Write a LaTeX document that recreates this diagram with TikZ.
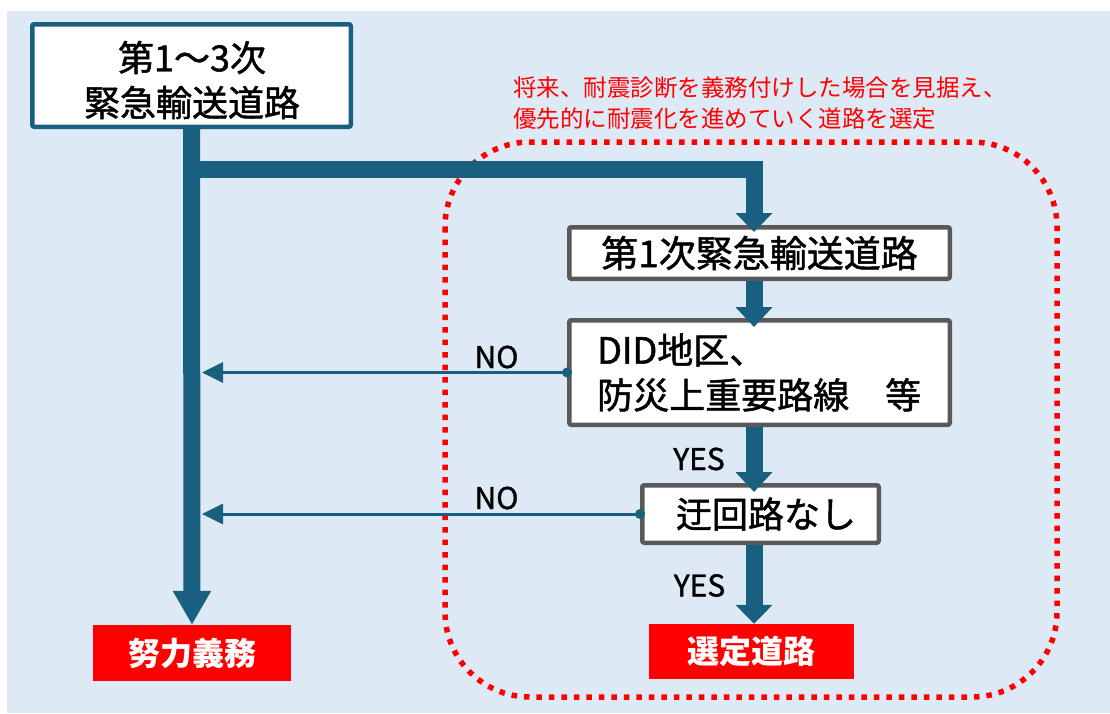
\documentclass[tikz,border=0pt]{standalone}
\usepackage{fontspec}
\setmainfont{Noto Sans CJK JP}
\newfontfamily\jpmed[FakeBold=1.3]{Noto Sans CJK JP}
\usetikzlibrary{arrows.meta}
\definecolor{bgblue}{HTML}{DDEAF6}
\definecolor{tealc}{HTML}{185F80}
\definecolor{grayc}{HTML}{595959}
\definecolor{redc}{HTML}{FF0000}
\begin{document}
\begin{tikzpicture}[x=1pt,y=-1pt,
  tealbox/.style={draw=tealc,line width=4.5pt,fill=white,rounded corners=2pt,inner sep=0pt},
  graybox/.style={draw=grayc,line width=4.5pt,fill=white,rounded corners=2pt,align=center,inner sep=0pt,
    font=\jpmed\fontsize{37pt}{45pt}\selectfont},
  boxtext/.style={inner sep=0pt,align=left,font=\jpmed\fontsize{36pt}{45pt}\selectfont},
  redbox/.style={fill=redc,text=white,inner sep=0pt,font=\bfseries\fontsize{32pt}{36pt}\selectfont},
  bigline/.style={draw=tealc,line width=17pt,line join=miter},
  thinline/.style={draw=tealc,line width=3pt,-{Triangle[length=21pt,width=20pt]}},
  lbl/.style={inner sep=0pt,font=\jpmed\fontsize{30pt}{32pt}\selectfont},
  notetext/.style={anchor=west,align=left,text=redc,inner sep=0pt,font=\fontsize{23.5pt}{31pt}\selectfont}
]
\useasboundingbox (0,0) rectangle (1110,713);
\fill[bgblue] (7,11) rectangle (1110,713);

% dotted frame
\draw[redc,line width=5.5pt,dash pattern=on 5.5pt off 7pt,rounded corners=85pt] (445,142) rectangle (1057,697);

% note
\node[notetext] (note) at (513,103.5) {将来、耐震診断を義務付けした場合を見据え、\\優先的に耐震化を進めていく道路を選定};

% boxes
\node[tealbox,minimum width=318.5pt,minimum height=102.5pt] (top) at (191.5,75.5) {};
\node[boxtext,align=center] (topt) at (192,80) {第1～3次\\緊急輸送道路};
\node[graybox,minimum width=380.5pt,minimum height=51.5pt] (b1) at (759.5,253) {第1次緊急輸送道路};
\node[graybox,minimum width=380.5pt,minimum height=104.5pt] (b2) at (759.5,372.5) {};
\node[boxtext,anchor=west] (b2t) at (597,372.5) {DID地区、\\防災上重要路線　等};
\node[graybox,minimum width=236.5pt,minimum height=57.5pt] (b3) at (760.5,514) {};
\node[boxtext] (b3t) at (766,514) {迂回路なし};
\node[redbox,minimum width=198pt,minimum height=56pt] (effort) at (192,653) {努力義務};
\node[redbox,minimum width=205pt,minimum height=55pt] (sel) at (751.5,651.5) {選定道路};

% thick connectors
\draw[bigline,-{Triangle[length=34pt,width=36pt]}] (top.south) -- (effort.north);
\coordinate (j) at (191.5,169.5);
\draw[bigline,-{Triangle[length=19pt,width=36pt]}] (j) -| ([xshift=-5.5pt,yshift=-7pt]b1.north);
\draw[bigline,-{Triangle[length=20pt,width=36pt]}] ([xshift=-5.5pt]b1.south) -- ([xshift=-5.5pt,yshift=-9pt]b2.north);
\draw[bigline,-{Triangle[length=20pt,width=36pt]}] ([xshift=-5.5pt]b2.south) -- ([xshift=-6.5pt,yshift=-9pt]b3.north);
\draw[bigline,-{Triangle[length=19pt,width=36pt]}] ([xshift=-6.5pt]b3.south) -- ([xshift=2.5pt]sel.north);

% NO connectors
\coordinate (n1) at (202,372.5);
\coordinate (n2) at (202,514);
\draw[thinline] (b2.west) -- (n1);
\draw[thinline] (b3.west) -- (n2);
\fill[tealc] (b2.west) circle (5pt);
\fill[tealc] (b3.west) circle (5pt);

% labels
\node[lbl] (no1) at (496.5,357) {NO};
\node[lbl] (no2) at (496.5,498) {NO};
\node[lbl] (yes1) at (699,459) {YES};
\node[lbl] (yes2) at (699.5,585.5) {YES};
\end{tikzpicture}
\end{document}
